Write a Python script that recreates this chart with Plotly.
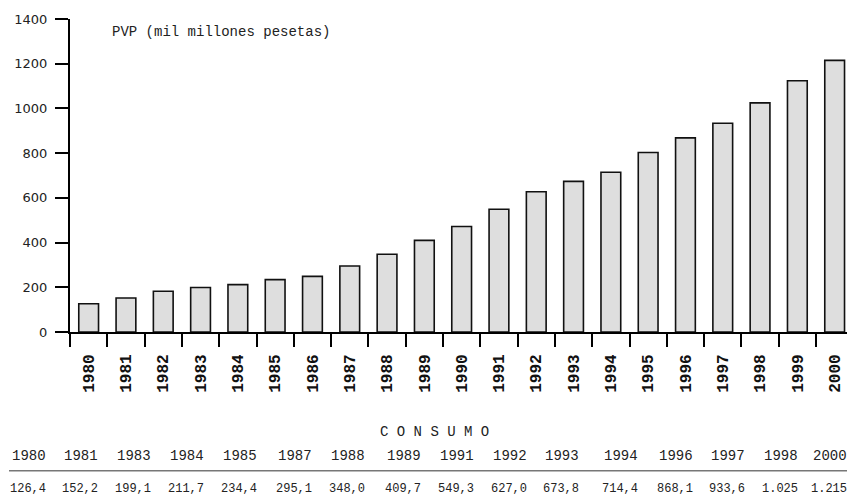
import plotly.graph_objects as go

# PVP consumption by year (thousand million pesetas)
years = [str(y) for y in range(1980, 2001)]
pvp = [126.4, 152.2, 182.0, 199.1, 211.7, 234.4, 249.0, 295.1, 348.0, 409.7,
       472.0, 549.3, 627.0, 673.8, 714.4, 803.0, 868.1, 933.6, 1025.0, 1124.0, 1215.0]

# Years listed in the CONSUMO table underneath the chart
table_years = ["1980", "1981", "1983", "1984", "1985", "1987", "1988", "1989",
               "1991", "1992", "1993", "1994", "1996", "1997", "1998", "2000"]

y_ticks = [0, 200, 400, 600, 800, 1000, 1200, 1400]

# Layout geometry (pixels)
W, H = 847, 502
ML, MR, MT, MB = 70, 0, 19, 169.5
PLOT_W = W - ML - MR
CAT_W = 37.3
table_col_px = [9, 61, 114, 167, 220, 275, 328, 384, 437, 490, 542, 601, 656, 708, 761, 810]


def px_to_paper(px):
    return (px - ML) / PLOT_W


def py_to_paper(py):
    plot_h = H - MT - MB
    return (H - MB - py) / plot_h


def fmt_es(v):
    if v >= 1000:
        return f"{int(round(v)):,}".replace(",", ".")
    return f"{v:.1f}".replace(".", ",")


fig = go.Figure()
fig.add_trace(go.Bar(
    x=years, y=pvp, width=0.53,
    marker=dict(color="#dedede", line=dict(color="#111111", width=1.6)),
    hoverinfo="x+y",
))

annotations = [
    dict(text="PVP (mil millones pesetas)", xref="paper", yref="paper",
         x=px_to_paper(110), y=py_to_paper(32), xanchor="left", yanchor="middle",
         showarrow=False, font=dict(family="Liberation Mono", size=14, color="#222222")),
    dict(text="C O N S U M O", xref="paper", yref="paper",
         x=px_to_paper(434), y=py_to_paper(433), xanchor="center", yanchor="middle",
         showarrow=False, font=dict(family="Liberation Mono", size=14, color="#222222")),
]

value_by_year = dict(zip(years, pvp))
for yr, cx in zip(table_years, table_col_px):
    annotations.append(dict(
        text=yr, xref="paper", yref="paper", x=px_to_paper(cx + 1), y=py_to_paper(457),
        xanchor="left", yanchor="middle", showarrow=False,
        font=dict(family="Liberation Mono", size=14, color="#222222")))
    annotations.append(dict(
        text=fmt_es(value_by_year[yr]), xref="paper", yref="paper", x=px_to_paper(cx - 1),
        y=py_to_paper(490), xanchor="left", yanchor="middle", showarrow=False,
        font=dict(family="Liberation Mono", size=12, color="#222222")))

shapes = [
    dict(type="line", xref="paper", yref="paper",
         x0=px_to_paper(9), x1=px_to_paper(W + 5), y0=py_to_paper(471.5), y1=py_to_paper(471.5),
         line=dict(color="#777777", width=1.5)),
]

fig.update_layout(
    width=W, height=H,
    margin=dict(l=ML, r=MR, t=MT, b=MB, pad=0),
    paper_bgcolor="white", plot_bgcolor="white",
    showlegend=False,
    annotations=annotations,
    shapes=shapes,
    bargap=0.47,
)

fig.update_xaxes(
    type="category",
    range=[-0.5, -0.5 + PLOT_W / CAT_W],
    showgrid=False, zeroline=False,
    showline=True, linecolor="#000000", linewidth=2,
    ticks="outside", tickson="boundaries", ticklen=13, tickwidth=2, tickcolor="#000000",
    tickangle=-90, ticklabelstandoff=14,
    tickfont=dict(family="Liberation Mono", size=16, color="#111111", weight="bold"),
)

fig.update_yaxes(
    range=[0, 1400],
    tickvals=y_ticks,
    showgrid=False, zeroline=False,
    showline=True, linecolor="#000000", linewidth=2,
    ticks="outside", ticklen=13, tickwidth=2, tickcolor="#000000",
    ticklabelstandoff=5,
    tickfont=dict(family="DejaVu Sans", size=13, color="#222222"),
)

fig.write_html("out.html")
